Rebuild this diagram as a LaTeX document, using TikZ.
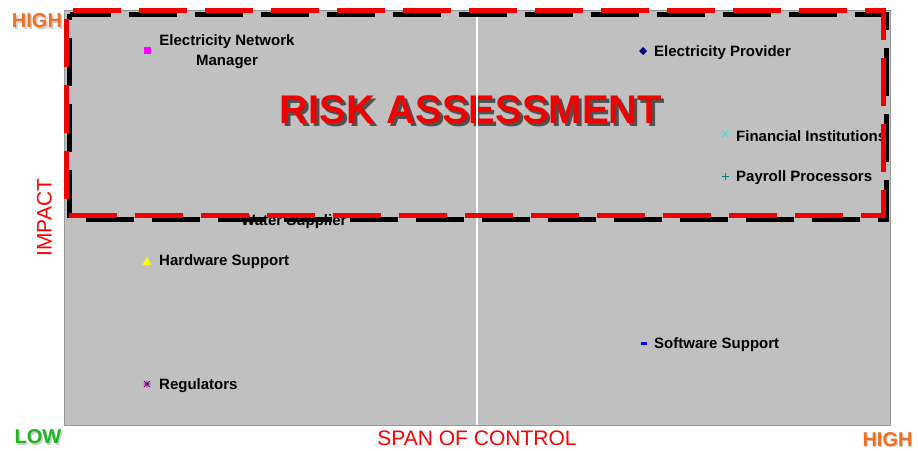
\documentclass[tikz,border=0pt]{standalone}
\usepackage{fontspec}
\setmainfont{Liberation Sans}
\definecolor{plotgrey}{RGB}{192,192,192}
\definecolor{frameg}{RGB}{150,150,150}
\definecolor{hiorange}{RGB}{240,112,32}
\definecolor{logreen}{RGB}{30,180,30}
\definecolor{shadowg}{RGB}{80,80,80}
\definecolor{softshadow}{RGB}{205,205,205}
\definecolor{dashred}{RGB}{240,0,0}
\definecolor{mkmagenta}{RGB}{255,0,255}
\definecolor{mknavy}{RGB}{0,0,128}
\definecolor{mkcyan}{RGB}{64,224,224}
\definecolor{mkteal}{RGB}{0,128,128}
\definecolor{mkyellow}{RGB}{255,255,0}
\definecolor{mkpurple}{RGB}{128,0,128}
\definecolor{mkblue}{RGB}{0,0,255}
\tikzset{
  lbl/.style={inner sep=0pt, anchor=west, font=\bfseries\fontsize{15}{20}\selectfont, text=black},
  axisword/.style={inner sep=0pt, font=\bfseries\fontsize{20}{20}\selectfont},
  axistitle/.style={inner sep=0pt, font=\fontsize{21}{21}\selectfont, text=red},
  bigtitle/.style={inner sep=0pt, font=\bfseries\fontsize{40}{40}\selectfont},
  reddash/.style={draw=dashred, line width=5pt, dash pattern=on 48pt off 18pt, dash phase=59.5pt},
  blackdash/.style={draw=black, line width=5pt, dash pattern=on 48pt off 18pt, dash phase=7pt},
}
\begin{document}
\begin{tikzpicture}[x=1pt,y=-1pt]
\useasboundingbox (0,0) rectangle (918,450);
\fill[white] (0,0) rectangle (918,450);
% plot area
\draw[fill=plotgrey, draw=frameg, line width=1pt] (64,10) rectangle (890,425);
\coordinate (vtop) at (477,10);
\coordinate (vbot) at (477,425);
% markers
\fill[mkmagenta] (143.5,46.5) rectangle (150.5,53.5);
\fill[mknavy] (643,47) -- (647,51) -- (643,55) -- (639,51) -- cycle;
\draw[mkcyan, line width=0.8pt] (721.5,130.5) -- (728.5,137.5) (721.5,137.5) -- (728.5,130.5);
\draw[mkteal, line width=0.8pt] (721.5,176) -- (728.5,176) (725,172.5) -- (725,179.5);
\fill[mkyellow] (142.5,265) -- (151.5,265) -- (147,257) -- cycle;
\draw[mkpurple, line width=0.8pt] (143.5,384) -- (150.5,384) (147,380.5) -- (147,387.5) (144,381) -- (150,387) (144,387) -- (150,381);
\fill[mkblue] (641,342) rectangle (647,344.5);
% labels
\node[lbl, anchor=north, align=center] (enm) at (227,34) {Electricity Network\\Manager};
\node[lbl] (ep) at (654,53) {Electricity Provider};
\node[lbl] (fi) at (736,136) {Financial Institutions};
\node[lbl] (pp) at (736,178) {Payroll Processors};
\node[lbl] (ws) at (241,222) {Water Supplier};
\node[lbl] (hs) at (159,262) {Hardware Support};
\node[lbl] (rg) at (159,386) {Regulators};
\node[lbl] (ss) at (654,345) {Software Support};
% title
\node[bigtitle, text=shadowg] (titleshadow) at (474,113) {RISK ASSESSMENT};
\node[bigtitle, text=dashred] (title) at (471,110) {RISK ASSESSMENT};
% centre line
\draw[white, line width=1.5pt] (vtop) -- (vbot);
% dashed frame
\draw[blackdash] (69.5,14) -- (886.5,14) -- (886.5,219.5) -- (69.5,219.5) -- cycle;
\draw[reddash] (66.5,10.5) -- (883.5,10.5) -- (883.5,215) -- (66.5,215) -- cycle;
% axis words
\node[axisword, text=softshadow] (hitops) at (38.5,22.5) {HIGH};
\node[axisword, text=hiorange] (hitop) at (37,21) {HIGH};
\node[axisword, text=softshadow] (lows) at (39.5,438.5) {LOW};
\node[axisword, text=logreen] (low) at (38,437) {LOW};
\node[axisword, text=softshadow] (hibrs) at (888.5,441) {HIGH};
\node[axisword, text=hiorange] (hibr) at (887.5,440) {HIGH};
\node[axistitle] (span) at (477,438) {SPAN OF CONTROL};
\node[axistitle, rotate=90] (impact) at (44.5,217.5) {IMPACT};
\end{tikzpicture}
\end{document}
